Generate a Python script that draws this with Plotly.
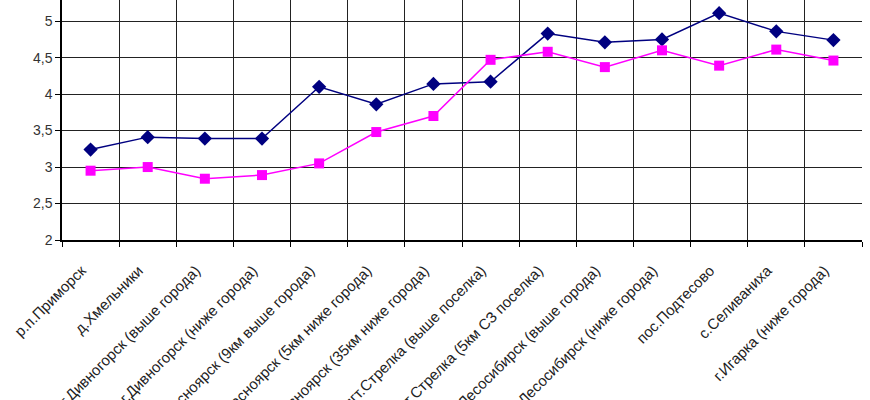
import plotly.graph_objects as go

categories = [
    "р.п.Приморск",
    "д.Хмельники",
    "г.Дивногорск (выше города)",
    "г.Дивногорск (ниже города)",
    "г.Красноярск (9км выше города)",
    "г.Красноярск (5км ниже города)",
    "г.Красноярск (35км ниже города)",
    "пгт.Стрелка (выше поселка)",
    "пгт.Стрелка (5км СЗ поселка)",
    "г.Лесосибирск (выше города)",
    "г.Лесосибирск (ниже города)",
    "пос.Подтесово",
    "с.Селиваниха",
    "г.Игарка (ниже города)",
]
series_navy = [3.24, 3.41, 3.39, 3.39, 4.10, 3.86, 4.14, 4.17, 4.83, 4.71, 4.75, 5.11, 4.86, 4.74]
series_magenta = [2.95, 3.00, 2.84, 2.89, 3.05, 3.48, 3.70, 4.47, 4.58, 4.37, 4.60, 4.39, 4.61, 4.46]
y_ticks = [2, 2.5, 3, 3.5, 4, 4.5, 5]

fig = go.Figure()
fig.add_trace(go.Scatter(
    x=categories, y=series_navy, mode="lines+markers",
    line=dict(color="#000080", width=1.5),
    marker=dict(symbol="diamond", size=11, color="#000080"),
    showlegend=False,
))
fig.add_trace(go.Scatter(
    x=categories, y=series_magenta, mode="lines+markers",
    line=dict(color="#FF00FF", width=1.5),
    marker=dict(symbol="square", size=10, color="#FF00FF"),
    showlegend=False,
))

fig.update_layout(
    width=870, height=400,
    margin=dict(l=62, r=8, t=0, b=160),
    paper_bgcolor="white", plot_bgcolor="white",
    separators=", ",
    font=dict(family="Liberation Sans, Arial, sans-serif", size=13, color="#333333"),
)
fig.update_xaxes(
    type="category", tickson="boundaries", tickangle=-45,
    showgrid=True, gridcolor="#222222", gridwidth=1,
    showline=True, linecolor="black", linewidth=2,
    ticks="outside", ticklen=5, tickcolor="black",
    automargin=False, range=[-0.5, 13.5],
    ticklabelstandoff=14, ticklabelshift=-9,
    tickfont=dict(size=15, color="#222222"),
)
fig.update_yaxes(
    range=[2, 5.29], tickvals=y_ticks,
    showgrid=True, gridcolor="#222222", gridwidth=1,
    showline=True, linecolor="black", linewidth=1.5,
    ticks="outside", ticklen=5, tickcolor="black",
    zeroline=False, automargin=False,
    tickfont=dict(size=14, color="#333333"),
)

fig.write_html("out.html")
